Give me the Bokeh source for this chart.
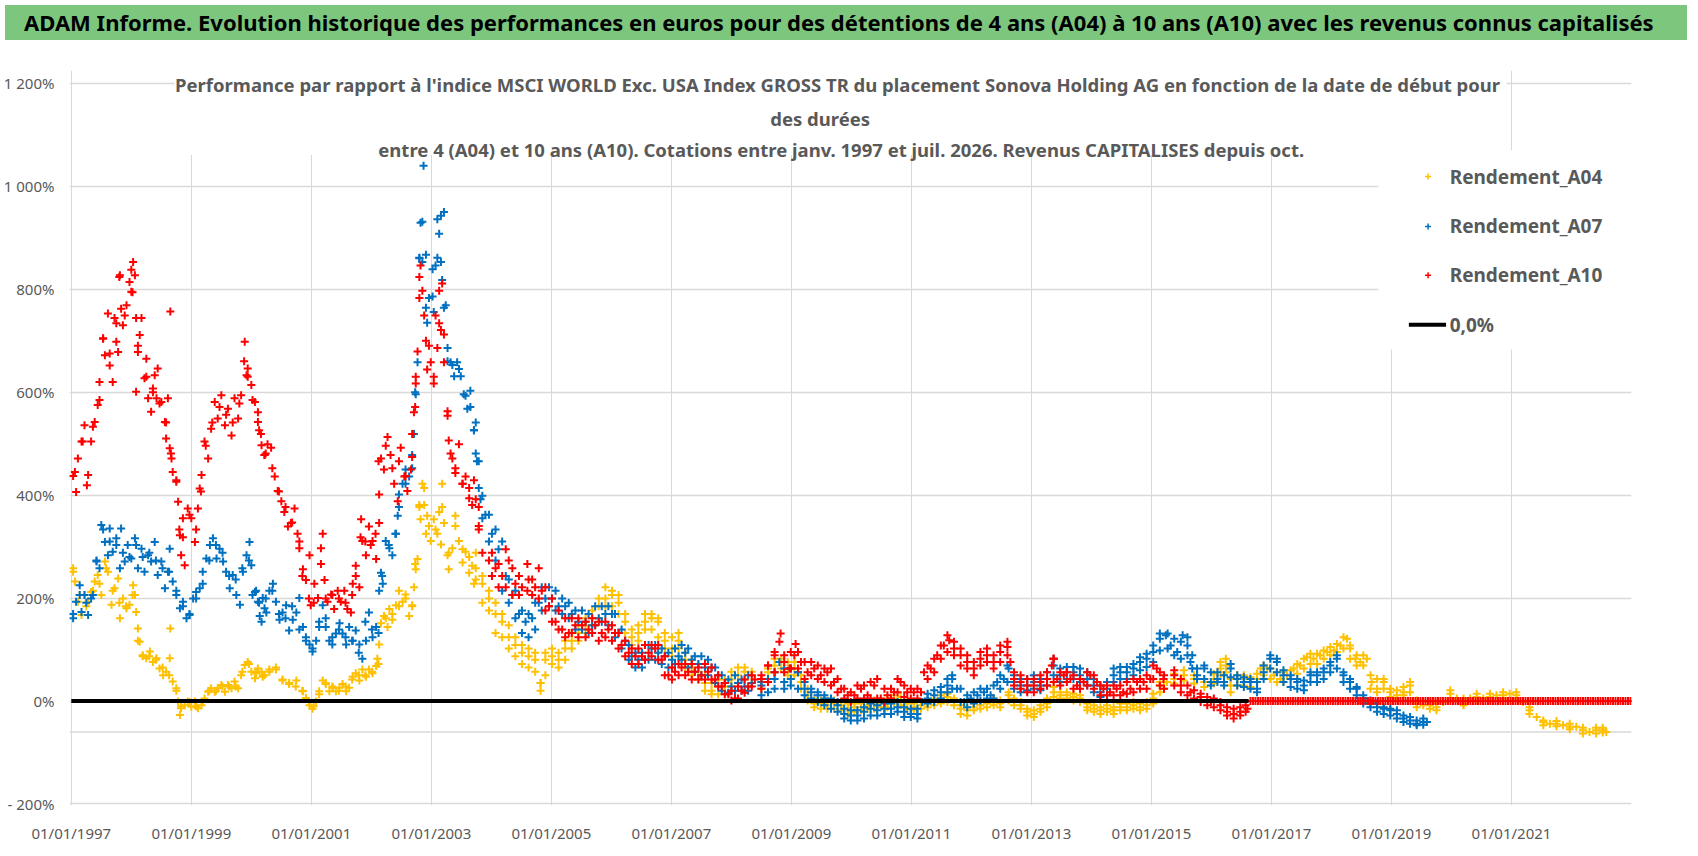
import numpy as np
from bokeh.plotting import figure
from bokeh.models import Range1d, FixedTicker, Label, BoxAnnotation, Span, Div
from bokeh.layouts import column
from bokeh.embed import file_html
from bokeh.resources import INLINE

banner_text = ("ADAM Informe. Evolution historique des performances en euros pour des détentions "
               "de 4 ans (A04) à 10 ans (A10) avec les revenus connus capitalisés")
title_lines = [
    "Performance par rapport à l'indice MSCI WORLD Exc. USA Index GROSS TR  du placement "
    "Sonova Holding AG en fonction de la date de début pour",
    "des durées",
    "entre 4 (A04) et 10 ans (A10). Cotations entre janv. 1997 et juil. 2026. "
    "Revenus CAPITALISES depuis oct.",
]

x_tick_years = [1997, 1999, 2001, 2003, 2005, 2007, 2009, 2011, 2013, 2015, 2017, 2019, 2021]
x_tick_labels = ["01/01/%d" % y for y in x_tick_years]
y_tick_values = [-200, 0, 200, 400, 600, 800, 1000, 1200]
y_tick_labels = ["- 200%", "0%", "200%", "400%", "600%", "800%", "1 000%", "1 200%"]

series_names = ["Rendement_A04", "Rendement_A07", "Rendement_A10"]
series_colors = ["#FFC000", "#0070C0", "#FF0000"]

# start date (decimal year) -> performance in %, read along the middle of each band
a04_years = [
    1997.03, 1997.14, 1997.25, 1997.36, 1997.47, 1997.58, 1997.69, 1997.80, 1997.91,
    1998.02, 1998.11, 1998.19, 1998.30, 1998.41, 1998.52, 1998.63, 1998.75, 1998.83, 1998.97,
    1999.08, 1999.19, 1999.30, 1999.41, 1999.52, 1999.63, 1999.74, 1999.85, 1999.96,
    2000.07, 2000.19, 2000.30, 2000.41, 2000.52, 2000.63, 2000.74, 2000.85, 2000.96,
    2001.04, 2001.13, 2001.24, 2001.35, 2001.46, 2001.57, 2001.68, 2001.79, 2001.90,
    2002.01, 2002.12, 2002.24, 2002.35, 2002.46, 2002.57, 2002.68, 2002.73, 2002.80, 2002.88, 2002.96,
    2003.07, 2003.18, 2003.29, 2003.40, 2003.52, 2003.63, 2003.74, 2003.85, 2003.96,
    2004.07, 2004.18, 2004.29, 2004.40, 2004.51, 2004.62, 2004.73, 2004.82, 2004.90,
    2005.01, 2005.12, 2005.23, 2005.34, 2005.45, 2005.57, 2005.68, 2005.79, 2005.90,
    2006.01, 2006.12, 2006.23, 2006.34, 2006.45, 2006.56, 2006.67, 2006.78, 2006.89,
    2007.01, 2007.12, 2007.23, 2007.34, 2007.45, 2007.56, 2007.67, 2007.78, 2007.89,
    2008.00, 2008.11, 2008.22, 2008.34, 2008.50, 2008.61, 2008.72, 2008.83, 2008.94,
    2009.05, 2009.16, 2009.27, 2009.38, 2009.49, 2009.60, 2009.71, 2009.83, 2009.94,
    2010.05, 2010.16, 2010.27, 2010.38, 2010.49, 2010.60, 2010.71, 2010.82, 2010.93,
    2011.04, 2011.16, 2011.27, 2011.38, 2011.49, 2011.60, 2011.71, 2011.82, 2011.93,
    2012.04, 2012.15, 2012.26, 2012.37, 2012.48, 2012.62, 2012.71, 2012.82, 2012.93,
    2013.04, 2013.15, 2013.26, 2013.37, 2013.48, 2013.59, 2013.70, 2013.81, 2013.93,
    2014.04, 2014.15, 2014.26, 2014.37, 2014.48, 2014.59, 2014.70, 2014.81, 2014.92,
    2015.03, 2015.14, 2015.26, 2015.38, 2015.54, 2015.71, 2015.88,
    2016.04, 2016.15, 2016.24, 2016.32, 2016.43, 2016.54, 2016.65, 2016.76, 2016.82, 2016.93,
    2017.04, 2017.15, 2017.26, 2017.37, 2017.48, 2017.59, 2017.70, 2017.81, 2017.93,
    2018.04, 2018.15, 2018.26, 2018.31, 2018.40, 2018.48, 2018.59, 2018.67, 2018.76, 2018.87, 2018.98,
    2019.09, 2019.20, 2019.31, 2019.42, 2019.53, 2019.64, 2019.75, 2019.86, 2019.98,
    2020.09, 2020.20, 2020.31, 2020.42, 2020.53, 2020.64, 2020.75, 2020.86, 2020.97,
    2021.08, 2021.19, 2021.30, 2021.42, 2021.53, 2021.64, 2021.75, 2021.86, 2021.97,
    2022.08, 2022.19, 2022.30, 2022.41, 2022.52, 2022.58,
]
a04_values = [
    251, 206, 184, 214, 228, 258, 214, 191, 184,
    206, 117, 87, 87, 80, 65, 50, 20, -10, -2,
    -10, -2, 20, 20, 28, 28, 28, 57, 72,
    57, 50, 57, 65, 42, 35, 28, 20, -2,
    -10, 13, 35, 28, 20, 28, 42, 50, 50,
    57, 72, 161, 169, 184, 199, 184, 266, 377, 414, 340,
    333, 377, 288, 340, 295, 280, 258, 228, 199,
    169, 154, 124, 109, 94, 87, 80, 35, 80,
    87, 80, 102, 117, 132, 147, 161, 184, 199,
    206, 191, 154, 124, 132, 154, 161, 154, 117,
    102, 117, 80, 65, 57, 35, 20, 28, 28,
    42, 50, 57, 50, 37, 56, 69, 76, 63,
    63, 37, 11, -5, -5, -8, -5, -8, -15,
    -12, -12, -8, -5, -5, -5, 5, -2, -5,
    -12, -8, -5, -2, 5, 8, -2, -15, -18,
    -12, -8, -5, -2, -5, 11, -2, -8, -21,
    -25, -15, -5, 17, 11, 11, 8, 5, -12,
    -15, -18, -15, -18, -12, -12, -8, -12, -8,
    5, 30, 37, 43, 50, 43, 37,
    43, 63, 69, 30, 43, 43, 37, 43, 63, 63,
    50, 43, 50, 63, 69, 85, 82, 89, 95,
    98, 108, 121, 102, 82, 76, 82, 37, 24, 37, 17,
    11, 17, 30, -5, -8, -8, -12, -2, 14,
    5, -5, 5, 8, 5, 8, 11, 11, 14,
    11, -2, -18, -31, -41, -44, -44, -47, -50,
    -50, -57, -60, -57, -57, -60,
]
# more points read on the upper and lower edges of the band, 1997 - mid 2003
a04_band_years = [
    1997.03, 1997.06, 1997.11, 1997.17, 1997.22, 1997.28, 1997.33, 1997.39, 1997.44, 1997.50,
    1997.56, 1997.61, 1997.67, 1997.72, 1997.78, 1997.81, 1997.86, 1997.92, 1997.97, 1998.03,
    1998.06, 1998.08, 1998.11, 1998.14, 1998.19, 1998.25, 1998.31, 1998.36, 1998.42, 1998.47,
    1998.53, 1998.58, 1998.64, 1998.65, 1998.69, 1998.75, 1998.78, 1998.81, 1998.83, 1998.89,
    1998.94, 1999.00, 1999.06, 1999.11, 1999.17, 1999.22, 1999.28, 1999.33, 1999.39, 1999.44,
    1999.50, 1999.56, 1999.61, 1999.67, 1999.72, 1999.78, 1999.83, 1999.89, 1999.94, 2000.00,
    2000.06, 2000.11, 2000.17, 2000.22, 2000.08, 2000.19, 2000.30, 2000.41, 2000.52, 2000.63,
    2000.75, 2000.86, 2000.91, 2000.97, 2001.02, 2001.08, 2001.13, 2001.19, 2001.24, 2001.30,
    2001.36, 2001.41, 2001.47, 2001.52, 2001.58, 2001.63, 2001.69, 2001.74, 2001.80, 2001.85,
    2001.91, 2001.96, 2002.02, 2002.08, 2002.10, 2002.13, 2002.16, 2002.21, 2002.27, 2002.30,
    2002.35, 2002.41, 2002.46, 2002.52, 2002.57, 2002.63, 2002.68, 2002.71, 2002.74, 2002.77,
    2002.80, 2002.82, 2002.85, 2002.88, 2002.91, 2002.93, 2002.99, 2003.04, 2003.10, 2003.13,
    2003.16, 2003.18, 2003.21, 2003.27, 2003.29, 2003.35, 2003.40, 2003.46, 2003.52, 2003.57,
    2003.63, 2003.68, 2003.71,
]
a04_band_values = [
    258, 232, 193, 167, 206, 193, 212, 232, 245, 206,
    271, 251, 187, 219, 238, 161, 199, 180, 187, 225,
    206, 173, 141, 115, 89, 83, 96, 76, 83, 63,
    50, 57, 83, 141, 38, 25, -1, -27, -14, -8,
    -1, -11, -1, -14, -8, 5, 18, 25, 18, 25,
    31, 18, 31, 25, 38, 25, 50, 70, 76, 57,
    44, 63, 57, 50, 54, 47, 61, 61, 40, 33,
    40, 19, 6, -8, -15, -1, 19, 40, 33, 19,
    26, 19, 26, 33, 19, 26, 47, 54, 40, 61,
    47, 61, 54, 68, 82, 110, 151, 165, 144, 179,
    158, 186, 214, 193, 207, 165, 186, 221, 256, 276,
    381, 353, 422, 381, 325, 360, 311, 353, 325, 367,
    304, 422, 346, 283, 256, 297, 360, 311, 269, 290,
    249, 263, 228,
]
# upper / lower edge of the band, mid 2003 - 2022
a04_edge_years = [
    2003.74, 2003.85, 2003.96, 2004.07, 2004.18, 2004.29, 2004.40, 2004.51, 2004.62, 2004.73,
    2004.82, 2004.90, 2005.01, 2005.12, 2005.23, 2005.34, 2005.45, 2005.57, 2005.68, 2005.79,
    2005.90, 2006.01, 2006.12, 2006.23, 2006.34, 2006.45, 2006.56, 2006.67, 2006.78, 2006.89,
    2007.01, 2007.12, 2007.23, 2007.34, 2007.45, 2007.56, 2007.67, 2007.78, 2007.89, 2008.00,
    2008.11, 2008.22, 2008.34,
    2008.50, 2008.61, 2008.72, 2008.83, 2008.94, 2009.05, 2009.16, 2009.27, 2009.38, 2009.49,
    2009.60, 2009.71, 2009.83, 2009.94, 2010.05, 2010.16, 2010.27, 2010.38, 2010.49, 2010.60,
    2010.71, 2010.82, 2010.93, 2011.04, 2011.16, 2011.27, 2011.38, 2011.49, 2011.60, 2011.71,
    2011.82, 2011.93, 2012.04, 2012.15, 2012.26, 2012.37, 2012.48, 2012.62, 2012.71, 2012.82,
    2012.93, 2013.04, 2013.15, 2013.26, 2013.37, 2013.48, 2013.59, 2013.70, 2013.81, 2013.93,
    2014.04, 2014.15, 2014.26, 2014.37, 2014.48, 2014.59, 2014.70, 2014.81, 2014.92, 2015.03,
    2015.14,
    2015.21, 2015.38, 2015.54, 2015.71, 2015.88, 2016.04, 2016.15, 2016.24, 2016.32, 2016.43,
    2016.54, 2016.65, 2016.76, 2016.87, 2016.98, 2017.09, 2017.20, 2017.32, 2017.43, 2017.54,
    2017.65, 2017.76, 2017.87, 2017.98, 2018.09, 2018.20, 2018.31, 2018.42, 2018.53, 2018.65,
    2018.76, 2018.87, 2018.98, 2019.09, 2019.20, 2019.31, 2019.42, 2019.64, 2019.75, 2019.98,
    2020.20, 2020.42, 2020.64, 2020.86, 2021.08, 2021.30, 2021.53, 2021.75, 2021.97, 2022.19,
    2022.41, 2022.52,
]
a04_edge_upper = [
    288, 243, 214, 191, 169, 147, 124, 109, 102, 94,
    35, 94, 102, 94, 117, 132, 147, 161, 176, 199,
    221, 214, 206, 169, 139, 147, 169, 169, 161, 132,
    124, 132, 94, 80, 72, 50, 35, 42, 42, 57,
    65, 65, 57,
    43, 63, 82, 82, 76, 76, 50, 24, 5, 1,
    1, 1, -2, -5, -5, -5, -2, 1, 1, 5,
    11, 8, 1, -5, -2, 1, 5, 11, 14, 5,
    -8, -12, -5, -2, 1, 5, 1, 17, 5, -2,
    -15, -18, -8, 5, 27, 17, 17, 14, 11, -5,
    -8, -12, -8, -12, -5, -5, -2, -5, -2, 14,
    37,
    37, 53, 60, 50, 43, 53, 76, 82, 43, 50,
    50, 46, 53, 69, 63, 56, 56, 60, 72, 82,
    92, 92, 98, 105, 111, 124, 108, 89, 89, 50,
    43, 43, 24, 21, 27, 37, 1, -2, -5, 21,
    5, 14, 14, 17, 17, -12, -38, -39, -44, -52,
    -52, -52,
]
a04_edge_lower = [
    236, 191, 176, 132, 124, 102, 87, 72, 65, 57,
    20, 50, 72, 65, 80, 102, 117, 132, 147, 161,
    184, 184, 169, 132, 109, 117, 139, 139, 124, 102,
    87, 102, 65, 50, 42, 20, 13, 13, 13, 28,
    35, 42, 35,
    24, 43, 56, 63, 50, 50, 24, 1, -12, -15,
    -15, -15, -18, -25, -21, -18, -15, -15, -12, -12,
    -5, -8, -15, -18, -15, -12, -8, -5, -2, -8,
    -25, -28, -18, -15, -12, -8, -12, 1, -8, -15,
    -28, -31, -21, -12, 8, 5, 5, 1, -2, -18,
    -21, -25, -21, -25, -18, -18, -15, -18, -15, -5,
    17,
    24, 34, 40, 34, 27, 34, 50, 56, 17, 30,
    30, 27, 37, 50, 43, 37, 37, 43, 53, 63,
    72, 72, 82, 89, 95, 102, 82, 69, 69, 24,
    17, 24, 8, 5, 11, 17, -12, -15, -18, 5,
    -8, 1, 1, 5, 5, -25, -47, -49, -55, -63,
    -63, -61,
]

a07_years = [
    1997.03, 1997.14, 1997.25, 1997.36, 1997.42, 1997.53, 1997.64, 1997.75, 1997.86, 1997.97,
    1998.08, 1998.19, 1998.30, 1998.41, 1998.52, 1998.63, 1998.75, 1998.86, 1998.97,
    1999.08, 1999.19, 1999.30, 1999.41, 1999.52, 1999.63, 1999.74, 1999.85, 1999.96,
    2000.02, 2000.13, 2000.24, 2000.35, 2000.46, 2000.57, 2000.68, 2000.80, 2000.91,
    2001.02, 2001.13, 2001.24, 2001.35, 2001.46, 2001.57, 2001.68, 2001.79, 2001.90,
    2002.01, 2002.12, 2002.18, 2002.29, 2002.40, 2002.46, 2002.57, 2002.68, 2002.73,
    2002.80, 2002.85, 2002.87, 2002.91, 2003.02, 2003.10, 2003.16, 2003.21, 2003.27, 2003.35,
    2003.46, 2003.57, 2003.65, 2003.71, 2003.76, 2003.82, 2003.90,
    2004.01, 2004.12, 2004.24, 2004.35, 2004.46, 2004.57, 2004.68, 2004.79, 2004.90,
    2005.01, 2005.12, 2005.23, 2005.34, 2005.45, 2005.57, 2005.68, 2005.79, 2005.90,
    2006.01, 2006.12, 2006.23, 2006.34, 2006.45, 2006.56, 2006.67, 2006.78, 2006.89,
    2007.01, 2007.12, 2007.23, 2007.34, 2007.45, 2007.56, 2007.67, 2007.78, 2007.89,
    2008.00, 2008.11, 2008.22, 2008.34, 2008.50, 2008.61, 2008.72, 2008.80, 2008.88, 2008.99,
    2009.11, 2009.22, 2009.33, 2009.44, 2009.55, 2009.66, 2009.77, 2009.88, 2009.99,
    2010.10, 2010.21, 2010.32, 2010.43, 2010.55, 2010.66, 2010.77, 2010.88, 2010.99,
    2011.10, 2011.18, 2011.27, 2011.38, 2011.49, 2011.60, 2011.68, 2011.76, 2011.88, 2011.99,
    2012.10, 2012.21, 2012.32, 2012.43, 2012.54, 2012.62, 2012.71, 2012.82, 2012.93,
    2013.04, 2013.15, 2013.26, 2013.37, 2013.48, 2013.59, 2013.70, 2013.81, 2013.93,
    2014.04, 2014.15, 2014.26, 2014.37, 2014.48, 2014.59, 2014.70, 2014.81, 2014.92,
    2015.03, 2015.14, 2015.24, 2015.32, 2015.43, 2015.52, 2015.60, 2015.65, 2015.76, 2015.88, 2015.99,
    2016.10, 2016.21, 2016.32, 2016.43, 2016.54, 2016.65, 2016.76, 2016.87, 2016.98,
    2017.09, 2017.20, 2017.32, 2017.43, 2017.54, 2017.65, 2017.76, 2017.87, 2017.98,
    2018.09, 2018.20, 2018.31, 2018.42, 2018.53, 2018.65, 2018.76, 2018.87, 2018.98,
    2019.09, 2019.20, 2019.31, 2019.42, 2019.53, 2019.59,
]
a07_values = [
    169, 206, 191, 206, 273, 333, 310, 303, 288, 280,
    303, 280, 288, 273, 258, 251, 214, 184, 169,
    199, 228, 273, 303, 288, 243, 236, 258, 273,
    206, 191, 199, 214, 169, 161, 184, 139, 117,
    102, 154, 161, 124, 139, 124, 117, 94, 154,
    139, 132, 243, 303, 325, 377, 422, 452, 600,
    861, 931, 1040, 764, 786, 861, 943, 764, 660, 653,
    645, 593, 571, 526, 466, 392, 362,
    325, 295, 243, 206, 169, 154, 161, 191, 199,
    199, 184, 184, 169, 154, 154, 147, 161, 169,
    169, 132, 117, 87, 80, 80, 102, 94, 87,
    80, 87, 94, 80, 72, 65, 65, 50, 35,
    28, 35, 28, 35, 30, 37, 43, 76, 37, 43,
    56, 24, 17, 11, 5, -2, -8, -25, -28,
    -28, -21, -15, -18, -15, -15, -12, -21, -25,
    -25, -2, 5, 11, 17, 30, 43, 24, -2, 5,
    11, 17, 11, 37, 43, 63, 37, 30, 30,
    37, 30, 43, 69, 50, 56, 56, 50, 43,
    30, 17, 24, 50, 56, 56, 63, 76, 82,
    95, 121, 128, 108, 95, 128, 108, 76, 50, 63, 37,
    43, 37, 63, 43, 37, 37, 24, 56, 82,
    76, 50, 43, 37, 30, 50, 50, 56, 69,
    82, 50, 37, 24, 5, -5, -12, -15, -18,
    -25, -34, -38, -44, -41, -41,
]
a07_band_years = [
    1997.03, 1997.08, 1997.14, 1997.17, 1997.22, 1997.28, 1997.33, 1997.42, 1997.47, 1997.50,
    1997.56, 1997.61, 1997.64, 1997.69, 1997.75, 1997.81, 1997.83, 1997.89, 1997.94, 1998.00,
    1998.06, 1998.11, 1998.17, 1998.22, 1998.28, 1998.33, 1998.39, 1998.44, 1998.50, 1998.56,
    1998.61, 1998.64, 1998.69, 1998.75, 1998.81, 1998.86, 1998.92, 1998.97, 1999.03, 1999.08,
    1999.14, 1999.19, 1999.25, 1999.31, 1999.36, 1999.42, 1999.47, 1999.53, 1999.58, 1999.64,
    1999.69, 1999.75, 1999.81, 1999.86, 1999.92, 1999.97, 2000.00, 2000.06, 2000.11, 2000.17,
    2000.22, 2000.08, 2000.14, 2000.19, 2000.25, 2000.30, 2000.36, 2000.41, 2000.47, 2000.52,
    2000.58, 2000.63, 2000.69, 2000.75, 2000.80, 2000.86, 2000.91, 2000.97, 2001.02, 2001.08,
    2001.13, 2001.19, 2001.24, 2001.30, 2001.35, 2001.41, 2001.47, 2001.52, 2001.58, 2001.63,
    2001.69, 2001.74, 2001.80, 2001.85, 2001.91, 2001.96, 2002.02, 2002.08, 2002.13, 2002.16,
    2002.19, 2002.24, 2002.30, 2002.35, 2002.41, 2002.44, 2002.46, 2002.52, 2002.57, 2002.63,
    2002.68, 2002.71, 2002.74, 2002.77, 2002.80, 2002.82, 2002.85, 2002.91, 2002.93, 2002.96,
    2003.02, 2003.04, 2003.07, 2003.10, 2003.13, 2003.16, 2003.18, 2003.21, 2003.24, 2003.27,
    2003.32, 2003.38, 2003.43, 2003.49, 2003.54, 2003.60, 2003.65, 2003.71,
]
a07_band_values = [
    161, 193, 225, 173, 206, 167, 199, 271, 258, 342,
    309, 283, 335, 290, 316, 258, 335, 271, 303, 277,
    316, 258, 296, 251, 283, 271, 309, 245, 271, 219,
    251, 296, 232, 206, 180, 193, 161, 167, 199, 212,
    219, 251, 277, 303, 316, 277, 296, 271, 251, 219,
    245, 206, 187, 251, 283, 309, 264, 212, 193, 154,
    180, 214, 165, 200, 172, 214, 228, 193, 158, 172,
    186, 137, 158, 172, 200, 144, 124, 110, 96, 117,
    144, 186, 144, 117, 110, 131, 151, 131, 110, 144,
    117, 137, 110, 82, 117, 172, 124, 144, 214, 249,
    228, 311, 297, 283, 325, 360, 401, 422, 450, 436,
    478, 519, 596, 658, 860, 929, 853, 867, 735, 783,
    839, 756, 846, 936, 908, 853, 818, 950, 769, 686,
    658, 631, 658, 631, 596, 568, 603, 526,
]
a07_edge_years = [
    2003.74, 2003.79, 2003.85, 2003.96, 2004.07, 2004.18, 2004.29, 2004.40, 2004.51, 2004.62,
    2004.73, 2004.84, 2004.96, 2005.07, 2005.18, 2005.29, 2005.40, 2005.51, 2005.62, 2005.73,
    2005.84, 2005.95, 2006.06, 2006.17, 2006.29, 2006.40, 2006.51, 2006.62, 2006.73, 2006.84,
    2006.95, 2007.06, 2007.17, 2007.28, 2007.39, 2007.50, 2007.61, 2007.73, 2007.84, 2007.95,
    2008.06, 2008.17, 2008.28,
    2008.50, 2008.61, 2008.72, 2008.88, 2008.99, 2009.11, 2009.22, 2009.33, 2009.44, 2009.55,
    2009.66, 2009.77, 2009.88, 2009.99, 2010.10, 2010.21, 2010.32, 2010.43, 2010.55, 2010.66,
    2010.77, 2010.88, 2010.99, 2011.10, 2011.27, 2011.38, 2011.49, 2011.60, 2011.68, 2011.82,
    2011.93, 2012.04, 2012.15, 2012.26, 2012.37, 2012.48, 2012.60, 2012.71, 2012.82, 2012.93,
    2013.04, 2013.15, 2013.26, 2013.37, 2013.48, 2013.59, 2013.70, 2013.81, 2013.93, 2014.04,
    2014.15, 2014.26, 2014.37, 2014.48, 2014.59, 2014.70, 2014.81, 2014.92, 2015.03, 2015.14,
    2015.27, 2015.38, 2015.49, 2015.60, 2015.68, 2015.76, 2015.88, 2015.99, 2016.10, 2016.21,
    2016.32, 2016.43, 2016.54, 2016.65, 2016.76, 2016.87, 2016.98, 2017.09, 2017.20, 2017.32,
    2017.43, 2017.54, 2017.65, 2017.76, 2017.87, 2017.98, 2018.09, 2018.20, 2018.31, 2018.42,
    2018.53, 2018.65, 2018.76, 2018.87, 2018.98, 2019.09, 2019.20, 2019.31, 2019.42, 2019.53,
]
a07_edge_upper = [
    541, 466, 399, 362, 333, 310, 236, 214, 176, 169,
    191, 221, 221, 214, 199, 191, 176, 176, 169, 184,
    184, 184, 169, 139, 109, 94, 94, 109, 109, 102,
    94, 102, 109, 102, 87, 87, 80, 65, 50, 42,
    50, 42, 50,
    37, 43, 56, 63, 63, 56, 37, 24, 17, 11,
    5, -2, -15, -18, -18, -12, -5, -8, -5, -5,
    -2, -12, -15, -15, 14, 21, 27, 43, 50, 24,
    11, 17, 24, 24, 30, 50, 69, 50, 43, 43,
    50, 43, 56, 82, 63, 66, 66, 63, 56, 43,
    30, 37, 63, 66, 66, 72, 85, 92, 108, 131,
    131, 121, 115, 124, 89, 63, 69, 56, 56, 50,
    72, 50, 46, 43, 37, 69, 89, 82, 60, 50,
    43, 40, 56, 56, 63, 76, 89, 56, 43, 27,
    11, 1, -5, -12, -15, -18, -28, -31, -38, -34,
]
a07_edge_lower = [
    481, 414, 355, 310, 273, 214, 191, 161, 132, 124,
    139, 176, 184, 176, 169, 161, 139, 139, 132, 147,
    154, 147, 124, 102, 80, 65, 65, 80, 80, 72,
    65, 72, 80, 65, 57, 50, 50, 35, 20, 16,
    20, 20, 20,
    11, 17, 24, 24, 30, 24, 11, 5, -2, -8,
    -15, -21, -34, -38, -38, -34, -28, -28, -25, -25,
    -21, -31, -31, -34, -5, -2, 5, 17, 24, -2,
    -12, -5, 1, 5, 5, 24, 37, 24, 17, 21,
    24, 21, 30, 50, 37, 43, 43, 37, 30, 17,
    8, 11, 37, 43, 43, 50, 60, 66, 76, 98,
    102, 89, 82, 89, 63, 43, 43, 30, 37, 30,
    46, 30, 27, 24, 17, 43, 63, 56, 37, 27,
    24, 21, 37, 37, 43, 56, 63, 37, 24, 11,
    -5, -12, -21, -25, -28, -34, -41, -44, -47, -46,
]

a10_years = [
    1997.03, 1997.19, 1997.36, 1997.47, 1997.53, 1997.64, 1997.75, 1997.80, 1997.89,
    1998.00, 1998.02, 1998.11, 1998.25, 1998.36, 1998.47, 1998.58, 1998.65, 1998.66, 1998.75,
    1998.80, 1998.86, 1998.97, 1999.08, 1999.16, 1999.24, 1999.35, 1999.47, 1999.58, 1999.69,
    1999.80, 1999.88, 1999.94, 2000.02, 2000.13, 2000.24, 2000.35, 2000.46, 2000.57, 2000.68,
    2000.80, 2000.85, 2000.96, 2001.04, 2001.16, 2001.24, 2001.35, 2001.46, 2001.57, 2001.68,
    2001.74, 2001.82, 2001.90, 2001.99, 2002.07, 2002.12, 2002.24, 2002.35, 2002.46, 2002.57,
    2002.68, 2002.73, 2002.74, 2002.80, 2002.88, 2002.96, 2003.04, 2003.13, 2003.21, 2003.27,
    2003.32, 2003.40, 2003.52, 2003.63, 2003.74, 2003.79, 2003.85, 2003.96,
    2004.07, 2004.18, 2004.29, 2004.40, 2004.51, 2004.62, 2004.73, 2004.84, 2004.96,
    2005.07, 2005.18, 2005.29, 2005.40, 2005.51, 2005.62, 2005.73, 2005.84, 2005.95,
    2006.06, 2006.17, 2006.29, 2006.40, 2006.51, 2006.62, 2006.73, 2006.84, 2006.95,
    2007.06, 2007.17, 2007.28, 2007.39, 2007.50, 2007.61, 2007.73, 2007.84, 2007.95,
    2008.06, 2008.17, 2008.28, 2008.39, 2008.50, 2008.61, 2008.72, 2008.80, 2008.82, 2008.88, 2008.97,
    2009.05, 2009.07, 2009.16, 2009.27, 2009.38, 2009.49, 2009.60, 2009.71, 2009.83, 2009.94,
    2010.05, 2010.16, 2010.27, 2010.38, 2010.49, 2010.60, 2010.71, 2010.82, 2010.93,
    2011.04, 2011.16, 2011.21, 2011.32, 2011.43, 2011.54, 2011.63, 2011.71, 2011.82, 2011.93,
    2012.04, 2012.15, 2012.26, 2012.37, 2012.48, 2012.60, 2012.65, 2012.71, 2012.82, 2012.93,
    2013.04, 2013.15, 2013.26, 2013.34, 2013.37, 2013.43, 2013.54, 2013.65, 2013.76, 2013.87, 2013.98,
    2014.09, 2014.20, 2014.31, 2014.42, 2014.53, 2014.65, 2014.76, 2014.87, 2014.98,
    2015.09, 2015.20, 2015.38, 2015.49, 2015.65, 2015.82, 2015.99,
    2016.15, 2016.26, 2016.37, 2016.48, 2016.60,
]
a10_values = [
    437, 504, 533, 585, 705, 675, 734, 824, 749,
    838, 794, 690, 630, 600, 578, 541, 757, 481, 429,
    333, 318, 362, 333, 407, 496, 541, 571, 556, 541,
    578, 660, 630, 585, 526, 481, 452, 407, 377, 347,
    310, 243, 199, 191, 266, 199, 206, 199, 191, 206,
    243, 318, 310, 303, 325, 466, 496, 452, 466, 437,
    474, 571, 630, 824, 749, 690, 630, 734, 712, 563,
    481, 452, 422, 414, 392, 340, 288, 273,
    258, 243, 273, 228, 221, 236, 221, 214, 184,
    154, 139, 132, 147, 147, 139, 147, 132, 139,
    132, 109, 94, 87, 87, 94, 102, 80, 50,
    57, 65, 57, 57, 50, 57, 42, 28, 13,
    5, 20, 28, 42, 50, 69, 89, 115, 131, 76, 63,
    89, 111, 76, 56, 63, 50, 56, 37, 24, 11,
    11, 24, 11, 30, 5, 11, 17, 37, 17,
    17, 17, 56, 63, 89, 108, 118, 102, 89, 76,
    63, 82, 89, 76, 95, 105, 76, 43, 37, 30,
    30, 37, 43, 69, 82, 43, 50, 43, 30, 37, 50,
    37, 24, 17, 24, 17, 24, 37, 37, 43,
    63, 43, 50, 30, 17, 8, -2,
    -8, -21, -25, -21, -15,
]
a10_band_years = [
    1997.06, 1997.08, 1997.11, 1997.17, 1997.22, 1997.26, 1997.28, 1997.33, 1997.39, 1997.44,
    1997.47, 1997.53, 1997.56, 1997.61, 1997.64, 1997.69, 1997.72, 1997.75, 1997.78, 1997.81,
    1997.83, 1997.86, 1997.92, 1997.97, 1998.00, 1998.03, 1998.06, 1998.08, 1998.08, 1998.11,
    1998.14, 1998.17, 1998.22, 1998.25, 1998.28, 1998.33, 1998.36, 1998.39, 1998.42, 1998.44,
    1998.50, 1998.56, 1998.58, 1998.61, 1998.64, 1998.67, 1998.69, 1998.75, 1998.78, 1998.81,
    1998.83, 1998.86, 1998.89, 1998.94, 1999.00, 1999.06, 1999.11, 1999.14, 1999.17, 1999.22,
    1999.28, 1999.33, 1999.39, 1999.44, 1999.50, 1999.56, 1999.61, 1999.67, 1999.72, 1999.78,
    1999.83, 1999.89, 1999.92, 1999.94, 2000.00, 2000.06, 2000.11, 2000.17, 2000.22,
    2000.11, 2000.16, 2000.22, 2000.27, 2000.33, 2000.39, 2000.44, 2000.50, 2000.55, 2000.61,
    2000.66, 2000.72, 2000.77, 2000.80, 2000.86, 2000.91, 2000.97, 2000.99, 2001.05, 2001.11,
    2001.16, 2001.19, 2001.22, 2001.27, 2001.33, 2001.38, 2001.44, 2001.49, 2001.55, 2001.60,
    2001.66, 2001.69, 2001.74, 2001.80, 2001.83, 2001.85, 2001.91, 2001.96, 2002.02, 2002.08,
    2002.13, 2002.13, 2002.16, 2002.21, 2002.27, 2002.32, 2002.38, 2002.44, 2002.49, 2002.55,
    2002.60, 2002.66, 2002.68, 2002.71, 2002.74, 2002.77, 2002.80, 2002.82, 2002.85, 2002.91,
    2002.93, 2002.99, 2003.04, 2003.07, 2003.10, 2003.13, 2003.16, 2003.18, 2003.21, 2003.27,
    2003.29, 2003.35, 2003.40, 2003.46, 2003.52, 2003.57, 2003.63, 2003.68, 2003.71,
]
a10_band_values = [
    445, 406, 471, 504, 536, 419, 439, 504, 542, 575,
    620, 704, 672, 753, 652, 620, 744, 698, 678, 827,
    762, 730, 769, 814, 795, 853, 827, 744, 601, 678,
    711, 744, 627, 665, 588, 562, 607, 633, 588, 646,
    581, 542, 510, 588, 491, 471, 445, 426, 387, 322,
    283, 355, 264, 374, 355, 309, 374, 413, 439, 504,
    471, 529, 581, 549, 594, 536, 568, 516, 588, 549,
    594, 698, 633, 646, 614, 581, 542, 497, 478,
    561, 519, 478, 499, 492, 436, 408, 388, 367, 339,
    346, 374, 325, 297, 256, 235, 283, 186, 228, 200,
    297, 325, 235, 193, 207, 179, 214, 193, 214, 179,
    172, 228, 263, 221, 353, 311, 283, 339, 311, 276,
    346, 401, 471, 450, 513, 478, 422, 388, 492, 436,
    408, 450, 519, 561, 617, 679, 783, 846, 797, 700,
    644, 658, 617, 749, 686, 797, 721, 811, 658, 554,
    506, 471, 443, 499, 422, 436, 394, 381, 429,
]
a10_edge_years = [
    2003.79, 2004.01, 2004.12, 2004.24, 2004.35, 2004.46, 2004.60, 2004.68, 2004.79, 2004.90,
    2005.01, 2005.12, 2005.23, 2005.34, 2005.45, 2005.57, 2005.68, 2005.79, 2005.90, 2006.01,
    2006.12, 2006.23, 2006.34, 2006.45, 2006.56, 2006.67, 2006.78, 2006.89, 2007.01, 2007.12,
    2007.23, 2007.34, 2007.45, 2007.56, 2007.67, 2007.78, 2007.89, 2008.00, 2008.11, 2008.22,
    2008.34,
    2008.50, 2008.61, 2008.72, 2008.88, 2008.99, 2009.11, 2009.22, 2009.33, 2009.44, 2009.55,
    2009.66, 2009.77, 2009.88, 2009.99, 2010.10, 2010.21, 2010.32, 2010.43, 2010.55, 2010.66,
    2010.77, 2010.88, 2010.99, 2011.10, 2011.27, 2011.38, 2011.49, 2011.60, 2011.71, 2011.82,
    2011.93, 2012.04, 2012.15, 2012.26, 2012.37, 2012.48, 2012.60, 2012.71, 2012.82, 2012.93,
    2013.04, 2013.15, 2013.26, 2013.37, 2013.48, 2013.59, 2013.70, 2013.81, 2013.93, 2014.04,
    2014.15, 2014.26, 2014.37, 2014.48, 2014.59, 2014.70, 2014.81, 2014.92, 2015.03, 2015.14,
    2015.21, 2015.38, 2015.49, 2015.60, 2015.71, 2015.82, 2015.93, 2016.04, 2016.15, 2016.26,
    2016.37, 2016.48, 2016.57,
]
a10_edge_upper = [
    377, 288, 266, 295, 258, 243, 266, 236, 258, 221,
    199, 176, 161, 161, 161, 154, 161, 154, 154, 147,
    132, 117, 102, 102, 109, 109, 109, 87, 65, 72,
    72, 72, 65, 72, 65, 50, 35, 20, 28, 42,
    50,
    43, 69, 95, 89, 95, 95, 76, 76, 69, 63,
    63, 43, 24, 17, 30, 30, 37, 43, 24, 24,
    43, 30, 24, 24, 69, 82, 108, 128, 115, 102,
    89, 76, 95, 102, 89, 108, 115, 56, 50, 43,
    43, 50, 56, 82, 56, 56, 50, 43, 56, 50,
    30, 30, 30, 30, 37, 43, 43, 50, 69, 56,
    50, 60, 43, 30, 21, 14, 8, 5, -2, -12,
    -15, -12, -8,
]
a10_edge_lower = [
    333, 243, 221, 221, 206, 206, 214, 206, 199, 176,
    154, 139, 124, 132, 124, 124, 132, 117, 124, 117,
    102, 87, 72, 72, 80, 87, 80, 50, 42, 50,
    50, 42, 42, 42, 42, 28, 13, 1, 5, 16,
    28,
    24, 37, 56, 56, 63, 63, 43, 50, 43, 37,
    30, 17, 5, -2, 5, 5, 5, 5, -2, 5,
    17, 8, 5, 5, 43, 56, 82, 95, 89, 69,
    63, 50, 69, 76, 63, 76, 89, 30, 24, 17,
    17, 24, 30, 37, 30, 37, 24, 24, 30, 24,
    11, 11, 11, 11, 14, 17, 24, 24, 43, 30,
    24, 30, 17, 11, 5, -2, -8, -12, -18, -28,
    -34, -28, -21,
]
# after mid-2016 no 10-year window is complete: the series stays at 0 up to the end of the axis
a10_zero_from, a10_zero_to = 2016.65, 2023.0

# the "0,0%" reference series
zero_line_years = [1997.0, 2016.62]
zero_line_values = [0.0, 0.0]

GRID = "#d9d9d9"
TEXT = "#595959"
FONT = "Noto Sans"

p = figure(width=1682, height=805, x_range=Range1d(1996.97, 2023.0), y_range=Range1d(-203, 1225),
           output_backend="svg", toolbar_location=None,
           min_border_left=66, min_border_right=51, min_border_top=25, min_border_bottom=45)
p.outline_line_color = None
p.background_fill_color = "white"
p.border_fill_color = "white"

p.xaxis.ticker = FixedTicker(ticks=x_tick_years)
p.xaxis.major_label_overrides = dict(zip(x_tick_years, x_tick_labels))
p.yaxis.ticker = FixedTicker(ticks=y_tick_values)
p.yaxis.major_label_overrides = dict(zip(y_tick_values, y_tick_labels))
for ax in (p.xaxis, p.yaxis):
    ax.axis_line_color = None
    ax.major_tick_line_color = None
    ax.minor_tick_line_color = None
    ax.major_tick_out = 0
    ax.major_label_text_color = TEXT
    ax.major_label_text_font = FONT
p.xaxis.major_label_text_font_size = "15px"
p.xaxis.major_label_standoff = 17
p.yaxis.major_label_text_font_size = "15px"
p.yaxis.major_label_standoff = 15

p.xgrid.ticker = FixedTicker(ticks=x_tick_years)
p.ygrid.ticker = FixedTicker(ticks=y_tick_values)
p.xgrid.grid_line_color = GRID
p.ygrid.grid_line_color = GRID
p.ygrid.grid_line_width = 1.5
p.add_layout(Span(location=-60, dimension="width", line_color=GRID, line_width=1.5, level="underlay"))

# white panels behind the chart title and the legend hide the grid
p.add_layout(BoxAnnotation(left=1998.72, right=2020.92, bottom=1061, top=1300, fill_color="white",
                           fill_alpha=1, line_color=None, level="underlay"))
p.add_layout(BoxAnnotation(left=2018.78, right=2023.0, bottom=683, top=1070, fill_color="white",
                           fill_alpha=1, line_color=None, level="underlay"))

a10_tail = list(np.arange(a10_zero_from, a10_zero_to, 1 / 24))
series_x = [
    a04_years + a04_band_years + a04_edge_years * 2,
    a07_years + a07_band_years + a07_edge_years * 2,
    a10_years + a10_band_years + a10_edge_years * 2 + a10_tail,
]
series_y = [
    a04_values + a04_band_values + a04_edge_upper + a04_edge_lower,
    a07_values + a07_band_values + a07_edge_upper + a07_edge_lower,
    a10_values + a10_band_values + a10_edge_upper + a10_edge_lower + [0] * len(a10_tail),
]
for xs, ys, color in zip(series_x, series_y, series_colors):
    p.scatter(xs, ys, marker="cross", size=8, line_color=color, line_width=2)

p.line(zero_line_years, zero_line_values, line_color="black", line_width=4)

# chart title
for text, tx, ty in zip(title_lines, [2009.81, 2009.48, 2009.83], [1198, 1132, 1071]):
    p.add_layout(Label(x=tx, y=ty, text=text, text_align="center", text_baseline="middle",
                       text_font=FONT, text_font_size="18.5px", text_font_style="bold",
                       text_color=TEXT))

# legend
leg_marker_x, leg_text_x = 2019.61, 2019.97
leg_rows = [1019, 922, 827, 731]
p.scatter([leg_marker_x] * 3, leg_rows[:3], marker="cross", size=6, line_width=1.5,
          line_color=series_colors)
p.line([2019.29, 2019.91], [leg_rows[3]] * 2, line_color="black", line_width=4)
for text, ty in zip(series_names + ["0,0%"], leg_rows):
    p.add_layout(Label(x=leg_text_x, y=ty, text=text, text_baseline="middle", text_font=FONT,
                       text_font_size="19px", text_font_style="bold", text_color=TEXT))

banner = Div(
    text=('<div style="width:1682px;height:35px;line-height:35px;background:#7DC67E;color:#000;'
          "font-family:'Noto Sans';font-weight:bold;font-size:22px;padding-left:19px;"
          'box-sizing:border-box;white-space:nowrap;overflow:hidden;">%s</div>' % banner_text),
    width=1682, height=35)

layout = column(banner, p)
open("out.html", "w").write(file_html(layout, INLINE))
